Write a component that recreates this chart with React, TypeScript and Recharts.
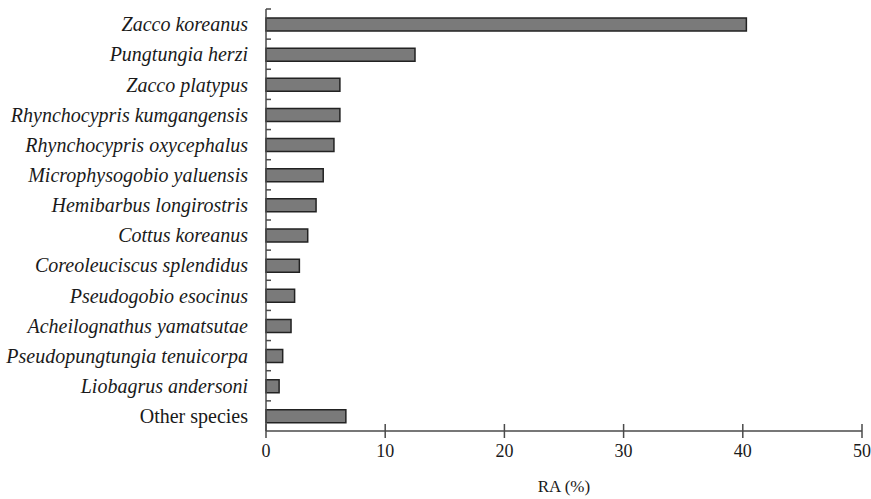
import { BarChart, Bar, XAxis, YAxis } from "recharts";

// species on the y axis, top to bottom
const species = [
  "Zacco koreanus",
  "Pungtungia herzi",
  "Zacco platypus",
  "Rhynchocypris kumgangensis",
  "Rhynchocypris oxycephalus",
  "Microphysogobio yaluensis",
  "Hemibarbus longirostris",
  "Cottus koreanus",
  "Coreoleuciscus splendidus",
  "Pseudogobio esocinus",
  "Acheilognathus yamatsutae",
  "Pseudopungtungia tenuicorpa",
  "Liobagrus andersoni",
  "Other species",
];

// relative abundance (%)
const ra = [40.3, 12.5, 6.2, 6.2, 5.7, 4.8, 4.2, 3.5, 2.8, 2.4, 2.1, 1.4, 1.1, 6.7];

const xTicks = [0, 10, 20, 30, 40, 50];

const data = species.map((name, i) => ({ name, ra: ra[i] }));

const W = 871;
const H = 499;
const MARGIN = { top: 9, right: 9, bottom: 0, left: 0 };
const Y_AXIS_W = 266;
const X_AXIS_H = 68;
const PLOT_H = H - MARGIN.top - X_AXIS_H;
const STEP = PLOT_H / species.length;

const SERIF = "'Liberation Serif', 'Times New Roman', serif";
const AXIS = "#4a4a4a";

function SpeciesTick(props: any) {
  const { x, y, payload } = props;
  const half = payload?.offset || STEP / 2;
  const italic = payload.value !== "Other species";
  return (
    <g>
      <line x1={x} x2={x + 5} y1={y - half} y2={y - half} stroke={AXIS} strokeWidth={1.5} />
      <text
        x={x - 18}
        y={y}
        dy="0.36em"
        textAnchor="end"
        fontFamily={SERIF}
        fontStyle={italic ? "italic" : "normal"}
        fontSize={20}
        fill="#1a1a1a"
      >
        {payload.value}
      </text>
    </g>
  );
}

function RaTick(props: any) {
  const { x, y, payload } = props;
  return (
    <g>
      <line x1={x} x2={x} y1={y - 7} y2={y + 7} stroke={AXIS} strokeWidth={1.5} />
      <text x={x} y={y + 26} textAnchor="middle" fontFamily={SERIF} fontSize={18} fill="#1a1a1a">
        {payload.value}
      </text>
    </g>
  );
}

export default function App() {
  return (
    <div style={{ position: "absolute", left: 0, top: 0, background: "#fff" }}>
      <BarChart width={W} height={H} data={data} layout="vertical" margin={MARGIN}>
        <XAxis
          type="number"
          domain={[0, 50]}
          ticks={xTicks}
          height={X_AXIS_H}
          tickLine={false}
          tickSize={0}
          tickMargin={0}
          tick={<RaTick />}
          axisLine={{ stroke: AXIS, strokeWidth: 1.5 }}
          interval={0}
          label={{
            value: "RA (%)",
            position: "insideBottom",
            offset: 7,
            style: { fontFamily: SERIF, fontSize: 17, fill: "#1a1a1a" },
          }}
        />
        <YAxis
          type="category"
          dataKey="name"
          width={Y_AXIS_W}
          tickLine={false}
          tickSize={0}
          tickMargin={0}
          tick={<SpeciesTick />}
          axisLine={{ stroke: AXIS, strokeWidth: 1.5 }}
          interval={0}
        />
        <Bar
          dataKey="ra"
          barSize={13}
          fill="#7a7a7a"
          stroke="#222"
          strokeWidth={1.5}
          isAnimationActive={false}
        />
      </BarChart>
    </div>
  );
}
